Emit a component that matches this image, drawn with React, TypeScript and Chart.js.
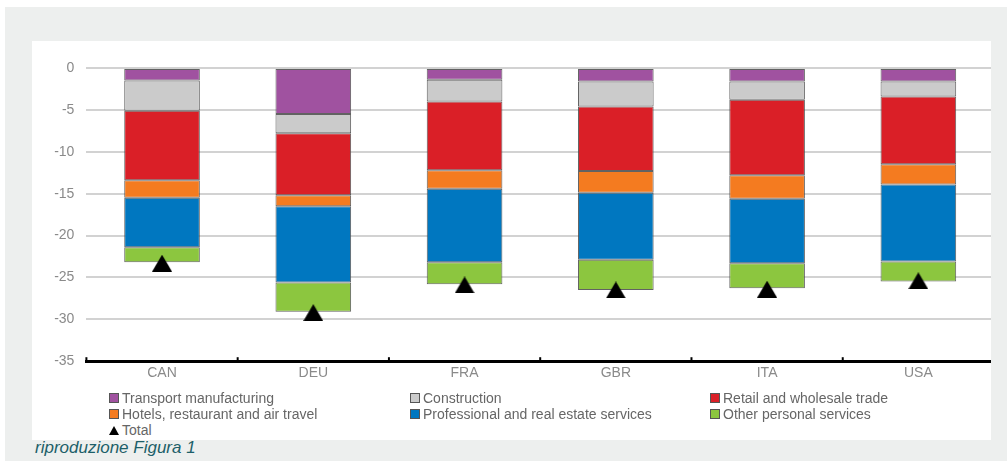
import React, { useEffect, useRef } from "react";
import { Chart, registerables } from "chart.js";

Chart.register(...registerables);

// ---- data ----
const categories = ["CAN", "DEU", "FRA", "GBR", "ITA", "USA"];
const transportManufacturing = [-1.5, -5.5, -1.4, -1.6, -1.6, -1.6];
const construction = [-3.6, -2.3, -2.6, -3.0, -2.2, -1.8];
const retailWholesale = [-8.3, -7.4, -8.2, -7.7, -9.0, -8.1];
const hotelsRestaurantAir = [-2.1, -1.3, -2.2, -2.6, -2.8, -2.4];
const professionalRealEstate = [-5.9, -9.1, -8.8, -8.0, -7.7, -9.2];
const otherPersonal = [-1.8, -3.5, -2.6, -3.6, -3.0, -2.4];
const totals = [-23.3, -29.2, -25.9, -26.5, -26.4, -25.4];

const seriesLabels = [
  "Transport manufacturing",
  "Construction",
  "Retail and wholesale trade",
  "Hotels, restaurant and air travel",
  "Professional and real estate services",
  "Other personal services",
];
const totalLabel = "Total";
const seriesColors = ["#a052a0", "#cbcbcb", "#da1f27", "#f47b20", "#0077c0", "#8cc63f"];
const seriesValues = [
  transportManufacturing,
  construction,
  retailWholesale,
  hotelsRestaurantAir,
  professionalRealEstate,
  otherPersonal,
];
const yMin = -35;
const yMax = 0;
const yStep = 5;
const caption = "riproduzione Figura 1";

// legend layout: 3 columns, row-major
const legendColumns = 3;

const FONT = "'Liberation Sans', Arial, sans-serif";
const TICK_COLOR = "#8a8a8a";

function makeTriangle(w: number, h: number): HTMLCanvasElement {
  const c = document.createElement("canvas");
  c.width = w;
  c.height = h;
  const ctx = c.getContext("2d")!;
  ctx.fillStyle = "#000";
  ctx.beginPath();
  ctx.moveTo(w / 2, 0);
  ctx.lineTo(w, h);
  ctx.lineTo(0, h);
  ctx.closePath();
  ctx.fill();
  return c;
}

const boundaryTicks = {
  id: "boundaryTicks",
  afterDraw(chart: any) {
    const x = chart.scales.x;
    const { bottom } = chart.chartArea;
    const ctx = chart.ctx;
    const half = (x.getPixelForValue(1) - x.getPixelForValue(0)) / 2;
    ctx.save();
    ctx.strokeStyle = "#000";
    ctx.lineWidth = 2;
    for (let i = 0; i < categories.length; i++) {
      const px = x.getPixelForValue(i) - half;
      ctx.beginPath();
      ctx.moveTo(px, bottom - 4);
      ctx.lineTo(px, bottom);
      ctx.stroke();
    }
    ctx.restore();
  },
};

export default function App() {
  const canvasRef = useRef<HTMLCanvasElement | null>(null);

  useEffect(() => {
    if (!canvasRef.current) return;
    const tri = makeTriangle(20, 17);
    const datasets: any[] = seriesValues.map((vals, i) => ({
      type: "bar",
      label: seriesLabels[i],
      data: vals,
      backgroundColor: seriesColors[i],
      borderColor: "rgba(70,70,70,0.85)",
      borderWidth: 1,
      borderSkipped: false,
      barPercentage: 0.5,
      categoryPercentage: 1,
      stack: "sectors",
      order: 1,
    }));
    datasets.push({
      type: "line",
      label: totalLabel,
      data: totals,
      showLine: false,
      pointStyle: tri,
      pointRadius: 10,
      backgroundColor: "#000",
      borderColor: "#000",
      stack: "total",
      order: 0,
    });

    const chart = new Chart(canvasRef.current, {
      type: "bar",
      data: { labels: categories, datasets },
      options: {
        animation: false,
        responsive: false,
        devicePixelRatio: 1,
        layout: { padding: { top: 27, left: 0, right: 0, bottom: 5 } },
        plugins: { legend: { display: false }, tooltip: { enabled: false } },
        scales: {
          x: {
            stacked: true,
            offset: true,
            grid: { display: false, drawTicks: false },
            border: { display: true, color: "#000", width: 3 },
            ticks: { padding: 4, color: TICK_COLOR, font: { family: FONT, size: 14 } },
          },
          y: {
            stacked: true,
            min: yMin,
            max: yMax,
            ticks: {
              stepSize: yStep,
              padding: 12,
              color: TICK_COLOR,
              font: { family: FONT, size: 14 },
            },
            grid: { color: "#d2d2d2", lineWidth: 2, drawTicks: false },
            border: { display: false },
            afterFit: (scale: any) => {
              scale.width = 54.4;
            },
          },
        },
      },
      plugins: [boundaryTicks],
    } as any);
    return () => chart.destroy();
  }, []);

  const legendItems = seriesLabels.map((l, i) => ({ label: l, color: seriesColors[i], total: false }));
  legendItems.push({ label: totalLabel, color: "#000", total: true });
  const colLefts = [77, 378, 678];

  return (
    <div style={{ position: "fixed", left: 0, top: 0, width: 1007, height: 461, background: "#fff", overflow: "hidden" }}>
      <div style={{ position: "absolute", left: 5, top: 7, right: 0, bottom: 0, background: "#edefee" }} />
      <div
        style={{
          position: "absolute",
          left: 35,
          top: 438,
          fontFamily: FONT,
          fontStyle: "italic",
          fontSize: 17,
          color: "#1d5f69",
          whiteSpace: "nowrap",
        }}
      >
        {caption}
      </div>
      <div
        style={{
          position: "absolute",
          left: 32,
          top: 41,
          width: 959,
          height: 399,
          background: "#fff",
          overflow: "hidden",
        }}
      >
        <canvas ref={canvasRef} width={973} height={350} style={{ position: "absolute", left: 0, top: 0 }} />
        {legendItems.map((it, idx) => {
          const row = Math.floor(idx / legendColumns);
          const col = idx % legendColumns;
          return (
            <div
              key={it.label}
              style={{
                position: "absolute",
                left: colLefts[col],
                top: 348.5 + row * 16.3,
                height: 16.3,
                display: "flex",
                alignItems: "center",
                fontFamily: FONT,
                fontSize: 14,
                color: "#666",
                whiteSpace: "nowrap",
              }}
            >
              {it.total ? (
                <span
                  style={{
                    width: 0,
                    height: 0,
                    borderLeft: "5px solid transparent",
                    borderRight: "5px solid transparent",
                    borderBottom: "9px solid #000",
                    marginRight: 3,
                  }}
                />
              ) : (
                <span
                  style={{
                    width: 8,
                    height: 8,
                    background: it.color,
                    border: "1px solid #555",
                    marginRight: 3,
                  }}
                />
              )}
              {it.label}
            </div>
          );
        })}
      </div>
    </div>
  );
}
